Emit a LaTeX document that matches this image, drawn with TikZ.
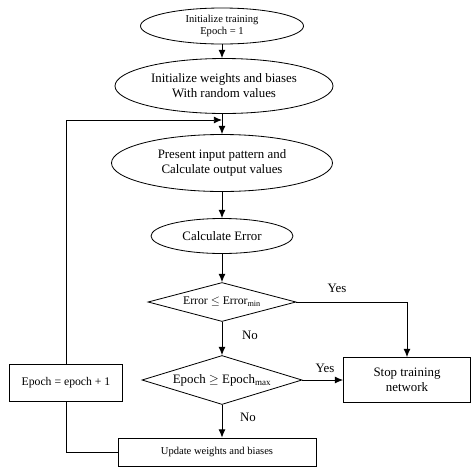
\documentclass[tikz,border=0pt]{standalone}
\usepackage{fontspec}
\setmainfont{Liberation Serif}
\usetikzlibrary{shapes.geometric,arrows.meta}
\tikzstyle{flow_ellipse}=[ellipse,
                          draw=black,
                          line width=0.7pt,
                          inner sep=0pt,
                          align=center,
                          font=\fontsize{11}{13}\selectfont ]
\tikzstyle{flow_box}=[rectangle,
                      draw=black,
                      line width=0.7pt,
                      inner sep=0pt,
                      align=center,
                      font=\fontsize{11}{13}\selectfont ]
\tikzstyle{flow_test}=[diamond,
                       draw=black,
                       line width=0.7pt,
                       inner sep=0pt,
                       shape aspect=3.3,
                       font=\fontsize{11}{13}\selectfont ]
\tikzstyle{flow_line}=[line width=0.8pt]
\tikzstyle{flow_arrow}=[line width=0.8pt, -{Latex[length=7pt,width=6pt]}]
\tikzstyle{flow_label}=[font=\fontsize{11}{13}\selectfont]

\begin{document}
\begin{tikzpicture}
  \useasboundingbox (0cm, 0cm) rectangle (14.22cm, -14.22cm);

  \node at (6.66cm, -0.78cm) (init) [flow_ellipse, minimum width=4.89cm, minimum height=1.08cm,
    font=\fontsize{9}{11}\selectfont] {Initialize training\\Epoch = 1};
  \node at (6.72cm, -2.58cm) (weights) [flow_ellipse, minimum width=6.54cm, minimum height=1.65cm] {Initialize weights and biases\\With random values};
  \node at (6.66cm, -4.89cm) (present) [flow_ellipse, minimum width=6.63cm, minimum height=1.71cm] {Present input pattern and\\Calculate output values};
  \node at (6.66cm, -7.08cm) (calc) [flow_ellipse, minimum width=4.26cm, minimum height=1.05cm] {Calculate Error};

  \node at (6.66cm, -9.06cm) (errtest) [flow_test, minimum width=4.44cm, minimum height=1.17cm,
    font=\fontsize{10}{12}\selectfont] {Error $\leq$ Error\textsubscript{min}};
  \node at (6.66cm, -11.4cm) (epochtest) [flow_test, minimum width=4.8cm, minimum height=1.47cm] {Epoch $\geq$ Epoch\textsubscript{max}};

  \node at (12.21cm, -11.4cm) (stop) [flow_box, minimum width=3.81cm, minimum height=1.35cm] {Stop training\\network};
  \node at (6.51cm, -13.56cm) (update) [flow_box, minimum width=5.94cm, minimum height=0.84cm,
    font=\fontsize{9}{11}\selectfont] {Update weights and biases};
  \node at (1.98cm, -11.49cm) (incr) [flow_box, minimum width=3.39cm, minimum height=1.11cm,
    font=\fontsize{10}{12}\selectfont] {Epoch = epoch + 1};

  \coordinate (join) at (6.66cm, -3.6cm);

  \draw[flow_arrow] (init.south) -- (weights.north -| init.south);
  \draw[flow_arrow] (join |- weights.south) -- (present.north);
  \draw[flow_arrow] (present.south) -- (calc.north);
  \draw[flow_arrow] (calc.south) -- (errtest.north);
  \draw[flow_arrow] (errtest.south) -- (epochtest.north);
  \draw[flow_arrow] (errtest.east) -| (stop.north);
  \draw[flow_arrow] (epochtest.east) -- (stop.west);
  \draw[flow_arrow] (epochtest.south) -- (epochtest.south |- update.north);
  \draw[flow_line] (update.west) -| (incr.south);
  \draw[flow_arrow] (incr.north) |- (join);

  \node at (10.11cm, -8.64cm) (yes1) [flow_label] {Yes};
  \node at (7.5cm, -10.05cm) (no1) [flow_label] {No};
  \node at (9.75cm, -11.04cm) (yes2) [flow_label] {Yes};
  \node at (7.44cm, -12.51cm) (no2) [flow_label] {No};
\end{tikzpicture}
\end{document}
